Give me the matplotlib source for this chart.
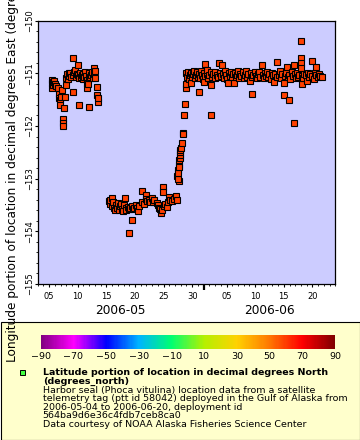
import numpy as np
import matplotlib
matplotlib.use('Agg')
import matplotlib.pyplot as plt
import matplotlib.dates as mdates
from matplotlib.colors import LinearSegmentedColormap, Normalize
from matplotlib.colorbar import ColorbarBase
from matplotlib.patches import Rectangle
from matplotlib.ticker import MultipleLocator, FixedLocator, FuncFormatter
from matplotlib.transforms import blended_transform_factory
from datetime import datetime, timedelta

# day of May (1 = 2006-05-01, 32 = 2006-06-01) and longitude
day = [
    # haul-out area 1, early May
    5.45, 5.50, 5.42, 5.60, 5.70, 5.85, 6.05, 6.20, 6.55, 6.70, 6.80, 6.87, 6.90, 7.05, 7.22,
    7.40, 7.42, 7.40, 7.62, 7.74, 7.87, 7.95, 8.10, 8.25, 8.40, 8.55, 8.70, 8.85, 9.09, 9.09,
    9.20, 9.35, 9.50, 9.65, 9.80, 9.97, 10.14, 10.10, 10.25, 10.40, 10.55, 10.70, 10.85, 11.00,
    11.15, 11.30, 11.45, 11.55, 11.64, 11.70, 11.82, 11.89, 11.90, 12.05, 12.20, 12.35, 12.50,
    12.60, 12.76, 12.85, 12.99, 13.05, 13.29, 13.40, 13.46, 13.45,
    # mid May, further west
    15.40, 15.55, 15.70, 15.96, 16.05, 16.19, 16.35, 16.49, 16.65, 16.80, 17.00, 17.15, 17.30,
    17.50, 17.70, 17.85, 18.00, 18.23, 18.35, 18.50, 18.70, 18.93, 19.00, 19.20, 19.41, 19.50,
    19.70, 19.90, 20.10, 20.30, 20.50, 20.75, 21.15, 21.30, 21.50, 21.85, 21.85, 22.10, 22.40,
    22.60, 22.90, 23.10, 23.40, 23.78, 24.00, 24.20, 24.40, 24.53, 24.70, 24.88, 24.88, 25.00,
    25.20, 25.52, 25.70, 25.95, 26.20, 26.50, 26.80, 27.17, 27.30, 27.70,
    # move back east
    27.38, 27.45, 27.55, 27.60, 27.67, 27.70, 27.75, 27.80, 27.85, 27.90, 27.95, 28.02, 28.15,
    28.32, 28.40, 28.55, 28.72, 28.85, 28.90,
    # June
    28.95, 29.10, 29.30, 29.45, 29.60, 29.72, 29.85, 30.00, 30.20, 30.35, 30.50, 30.70, 30.85,
    31.00, 31.12, 31.20, 31.40, 31.55, 31.70, 31.90, 32.05, 32.10, 32.17, 32.30, 32.50, 32.65,
    32.80, 33.00, 33.22, 33.22, 33.35, 33.50, 33.70, 33.90, 34.05, 34.25, 34.45, 34.62, 34.80,
    35.00, 35.14, 35.30, 35.50, 35.70, 35.90, 36.05, 36.19, 36.35, 36.55, 36.75, 36.95, 37.10,
    37.24, 37.40, 37.60, 37.80, 38.00, 38.20, 38.40, 38.60, 38.80, 39.00, 39.20, 39.40, 39.60,
    39.80, 40.03, 40.20, 40.38, 40.50, 40.70, 40.90, 41.10, 41.30, 41.50, 41.70, 41.90, 42.13,
    42.30, 42.50, 42.70, 42.90, 43.10, 43.30, 43.50, 43.70, 43.90, 44.10, 44.28, 44.45, 44.75,
    44.90, 45.10, 45.30, 45.50, 45.70, 45.98, 46.07, 46.20, 46.40, 46.56, 46.70, 46.85, 46.95,
    47.15, 47.35, 47.55, 47.78, 47.78, 47.90, 48.10, 48.30, 48.50, 48.70, 49.00, 49.00, 49.00,
    49.00, 49.13, 49.20, 49.40, 49.60, 49.80, 50.03, 50.20, 50.40, 50.60, 50.87, 51.00, 51.28,
    51.40, 51.57, 51.70, 51.90, 52.10, 52.30, 52.62,
]
lon_east = [
    -151.12, -151.18, -151.28, -151.22, -151.16, -151.14, -151.20, -151.24, -151.28, -151.40,
    -151.46, -151.51, -151.60, -151.45, -151.32, -151.87, -151.94, -152.00, -151.66, -151.44,
    -151.22, -151.08, -151.02, -151.10, -151.00, -151.05, -150.99, -151.07, -151.35, -150.70,
    -151.03, -150.98, -150.94, -151.06, -151.01, -150.85, -151.61, -151.04, -151.09, -151.00,
    -151.06, -151.03, -151.10, -151.02, -151.07, -150.98, -151.05, -151.12, -151.28, -151.18,
    -151.21, -151.63, -151.08, -151.00, -151.06, -151.03, -150.98, -151.09, -150.89, -151.02,
    -151.09, -150.96, -151.25, -151.41, -151.54, -151.47,
    -153.42, -153.48, -153.40, -153.36, -153.52, -153.44, -153.55, -153.59, -153.50, -153.56,
    -153.46, -153.60, -153.52, -153.48, -153.57, -153.62, -153.50, -153.37, -153.55, -153.60,
    -153.53, -154.03, -153.58, -153.55, -153.78, -153.52, -153.57, -153.55, -153.50, -153.56,
    -153.62, -153.52, -153.23, -153.45, -153.48, -153.31, -153.39, -153.42, -153.40, -153.45,
    -153.37, -153.44, -153.40, -153.46, -153.50, -153.55, -153.58, -153.65, -153.60, -153.15,
    -153.25, -153.52, -153.48, -153.53, -153.45, -153.34, -153.40, -153.42, -153.38, -153.32,
    -153.40, -153.04,
    -152.95, -153.00, -152.84, -152.90, -152.74, -152.78, -152.65, -152.60, -152.55, -152.50,
    -152.46, -152.42, -152.32, -152.13, -152.16, -151.79, -151.58, -151.27, -151.20,
    -151.00, -151.06, -150.97, -151.10, -151.03, -151.18, -150.99, -151.07, -151.02, -150.95,
    -151.09, -151.04, -150.98, -151.06, -151.35, -151.01, -151.08, -150.96, -151.04, -151.10,
    -150.99, -151.16, -150.82, -151.05, -151.02, -150.94, -151.08, -151.03, -151.22, -151.79,
    -150.97, -151.06, -151.01, -151.09, -150.98, -151.04, -151.07, -150.80, -150.99, -151.05,
    -150.84, -151.02, -151.08, -150.96, -151.03, -151.10, -151.18, -151.00, -151.05, -150.97,
    -151.07, -151.02, -151.19, -150.99, -151.06, -151.03, -150.95, -151.08, -151.01, -151.05,
    -150.98, -151.09, -151.03, -150.96, -151.06, -151.02, -151.14, -151.00, -151.39, -151.07,
    -151.03, -150.97, -151.05, -151.09, -151.01, -150.98, -151.06, -150.85, -151.03, -151.08,
    -151.00, -151.05, -150.97, -151.07, -151.02, -151.10, -150.99, -151.04, -151.16, -151.01,
    -150.78, -151.06, -151.03, -150.96, -151.08, -151.02, -151.41, -151.19, -151.05, -151.00,
    -150.87, -151.07, -151.51, -151.03, -151.10, -150.98, -151.05, -151.94, -150.84, -151.02,
    -151.08, -151.00, -151.06, -151.03, -150.39, -150.71, -150.81, -150.90, -151.20, -151.05,
    -151.09, -151.01, -151.04, -151.14, -150.99, -151.06, -151.02, -150.77, -151.05, -151.11,
    -151.00, -150.87, -151.04, -151.07, -151.02, -151.05, -151.06,
]

cbar_ticks = [-90, -70, -50, -30, -10, 10, 30, 50, 70, 90]
rainbow = ['#800080', '#ff00ff', '#0000ff', '#00b4ff', '#00ff70',
           '#b4f000', '#ffd200', '#ff7800', '#ff0000', '#800000']

legend_title = 'Latitude portion of location in decimal degrees North\n(degrees_north)'
legend_lines = [
    'Harbor seal (Phoca vitulina) location data from a satellite',
    'telemetry tag (ptt id 58042) deployed in the Gulf of Alaska from',
    '2006-05-04 to 2006-06-20, deployment id',
    '564ba9d6e36c4fdb7ceb8ca0',
    'Data courtesy of NOAA Alaska Fisheries Science Center',
]

W, H = 360, 440
fig = plt.figure(figsize=(W / 100, H / 100), dpi=100)

# px -> figure fraction helpers
def fx(px):
    return px / W

def fy(py):
    return 1 - py / H

# legend box (behind the colorbar axes)
fig.patches.append(Rectangle((fx(0.5), fy(439.5)), fx(359), (439.5 - 321.7) / H,
                             transform=fig.transFigure, fc='#ffffcc', ec='black', lw=0.8, zorder=-1))

ax = fig.add_axes([fx(37.7), fy(284), fx(335.3 - 37.7), (284 - 20.7) / H])
ax.set_facecolor('#ccccff')
for s in ax.spines.values():
    s.set_linewidth(0.9)

t0 = datetime(2006, 5, 1)
x = [t0 + timedelta(days=d - 1) for d in day]
ax.plot(x, lon_east, ls='none', marker='s', ms=3.9, mfc='#ff4000', mec='black', mew=0.8)

start, end = datetime(2006, 5, 3), datetime(2006, 6, 24)
jun1 = datetime(2006, 6, 1)
ax.set_xlim(start, end)
ax.set_ylim(-155, -150)

major_days = [datetime(2006, 5, d) for d in (5, 10, 15, 20, 25, 30)] + [jun1] + \
             [datetime(2006, 6, d) for d in (5, 10, 15, 20)]
major_nums = mdates.date2num(major_days)
ax.xaxis.set_major_locator(FixedLocator(major_nums))
ax.xaxis.set_major_formatter(FuncFormatter(
    lambda v, pos: '' if abs(v - mdates.date2num(jun1)) < 1e-6 else mdates.num2date(v).strftime('%d')))
ax.xaxis.set_minor_locator(mdates.DayLocator())
ax.tick_params(axis='x', which='major', length=2.4, width=0.8, labelsize=6, pad=3.4)
ax.tick_params(axis='x', which='minor', length=1.4, width=0.6)

ax.yaxis.set_major_locator(MultipleLocator(1))
ax.yaxis.set_minor_locator(MultipleLocator(0.2))
ax.tick_params(axis='y', which='major', length=2.4, width=0.8, labelsize=6, pad=0.5, labelrotation=90)
ax.tick_params(axis='y', which='minor', length=1.4, width=0.6)
for lab in ax.get_yticklabels():
    lab.set_va('center')

# longer month-boundary tick
ticks = ax.xaxis.get_major_ticks()
ticks[6].tick1line.set_markersize(4.5)
ticks[6].tick1line.set_markeredgewidth(1.6)

trans = blended_transform_factory(ax.transData, ax.transAxes)
ax.text(mdates.date2num(start) + (mdates.date2num(jun1) - mdates.date2num(start)) / 2, -0.101,
        '2006-05', transform=trans, ha='center', va='center', fontsize=8.7)
ax.text(mdates.date2num(jun1) + (mdates.date2num(end) - mdates.date2num(jun1)) / 2, -0.101,
        '2006-06', transform=trans, ha='center', va='center', fontsize=8.7)

# axis title runs past the top edge, as in the original
fig.text(fx(12.5), fy(152.3), 'Longitude portion of location in decimal degrees East (degrees_east)',
         rotation=90, ha='center', va='center', fontsize=8.7, zorder=5)

# colorbar
cmap = LinearSegmentedColormap.from_list('erddap_rainbow', rainbow)
cax = fig.add_axes([fx(40.7), fy(349), fx(335 - 40.7), 14 / H])
cb = ColorbarBase(cax, cmap=cmap, norm=Normalize(-90, 90), orientation='horizontal', ticks=cbar_ticks)
cb.outline.set_visible(False)
cax.tick_params(length=0, labelsize=6.8, pad=2.5)

# legend
fig.patches.append(Rectangle((fx(19.5), fy(375.2)), fx(5), 5 / H, transform=fig.transFigure,
                             fc='#44ff44', ec='black', lw=0.7))
fig.text(fx(42.7), fy(368.3), legend_title, ha='left', va='top', fontsize=6.8,
         fontweight='bold', linespacing=0.92)
fig.text(fx(42.7), fy(386.0), '\n'.join(legend_lines), ha='left', va='top', fontsize=6.8,
         linespacing=0.92)

fig.savefig('out.png', dpi=100)
